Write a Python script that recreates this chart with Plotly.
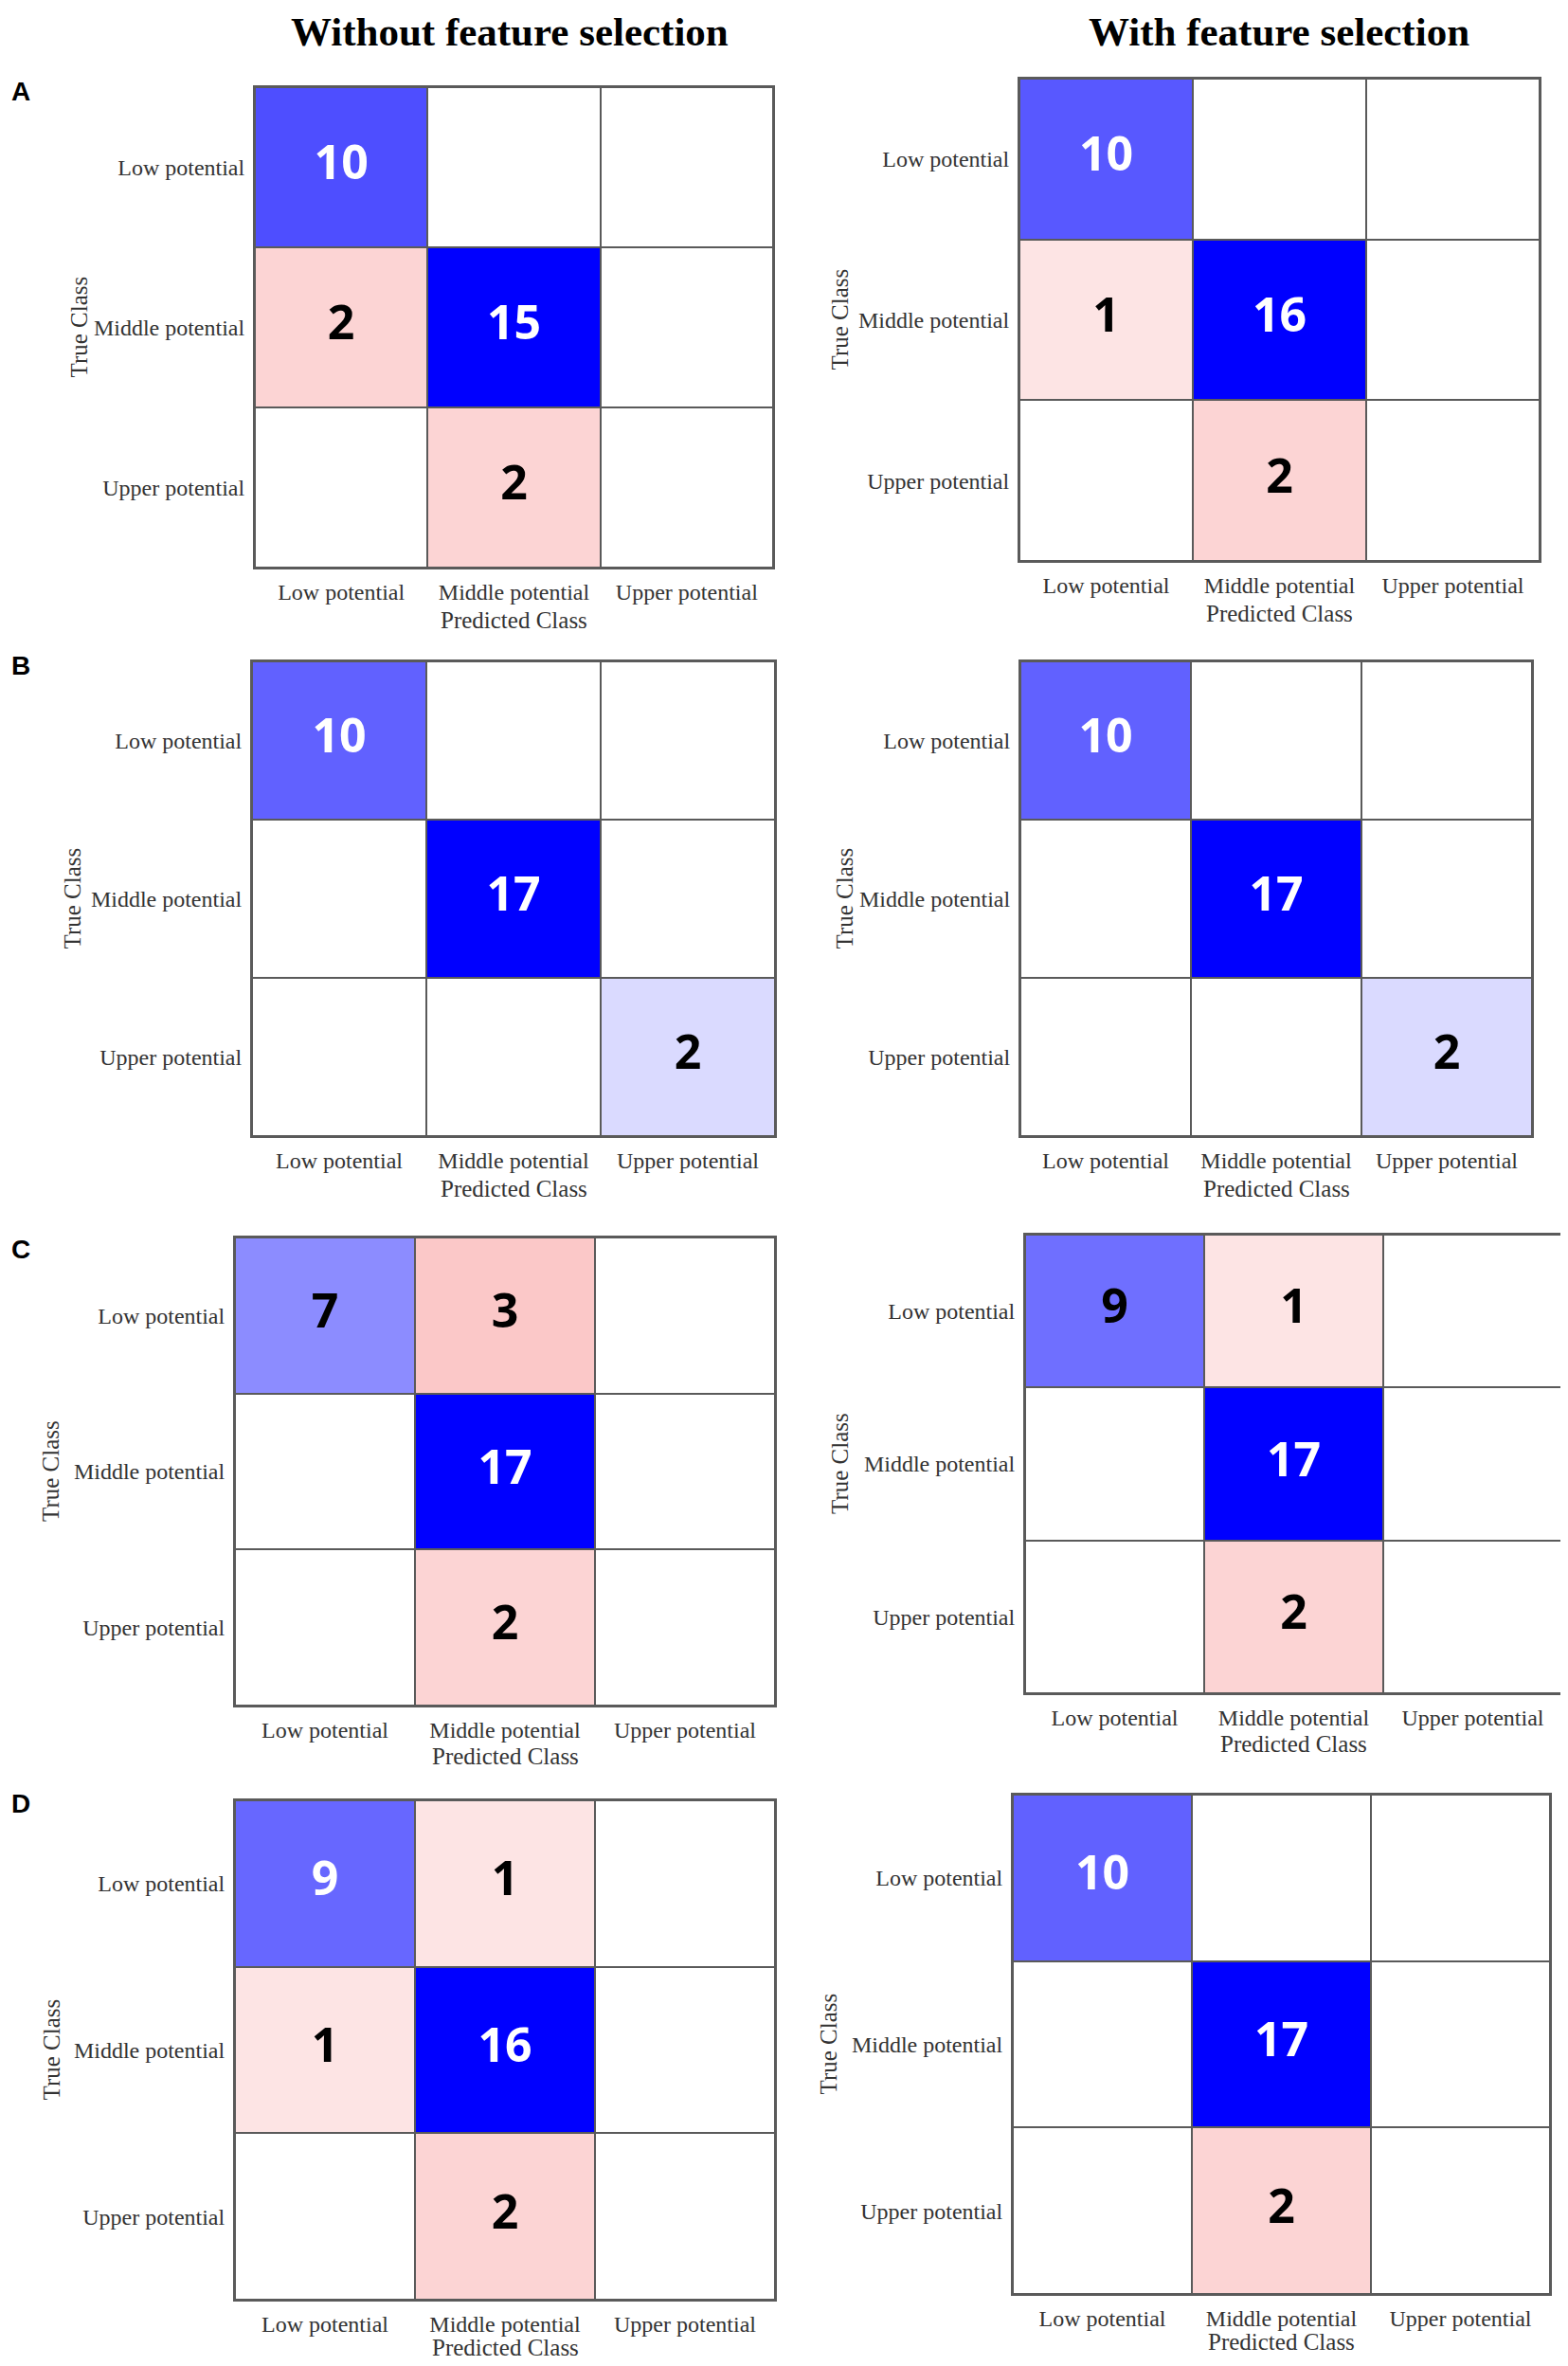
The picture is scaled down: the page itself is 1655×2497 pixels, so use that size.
import plotly.graph_objects as go

W, H = 1655, 2497
OFF = 8  # page body margin offset (px)

# ---------------- data ----------------
classes = ["Low potential", "Middle potential", "Upper potential"]
col_titles = ["Without feature selection", "With feature selection"]
row_letters = ["A", "B", "C", "D"]

A_without = [[10, 0, 0], [2, 15, 0], [0, 2, 0]]
A_with = [[10, 0, 0], [1, 16, 0], [0, 2, 0]]
B_without = [[10, 0, 0], [0, 17, 0], [0, 0, 2]]
B_with = [[10, 0, 0], [0, 17, 0], [0, 0, 2]]
C_without = [[7, 3, 0], [0, 17, 0], [0, 2, 0]]
C_with = [[9, 1, 0], [0, 17, 0], [0, 2, 0]]
D_without = [[9, 1, 0], [1, 16, 0], [0, 2, 0]]
D_with = [[10, 0, 0], [0, 17, 0], [0, 2, 0]]

matrices = [[A_without, A_with], [B_without, B_with],
            [C_without, C_with], [D_without, D_with]]

# ---------------- layout (page pixel boxes: left, right, top, bottom, trueclass_x) ----------------
boxes = [
    [(269, 816, 92, 599, 83), (1076, 1625, 83, 592, 886)],
    [(266, 818, 698, 1199, 76), (1077, 1617, 698, 1199, 891)],
    [(248, 818, 1306, 1800, 53), (1082, 1649, 1303, 1787, 886)],
    [(248, 818, 1900, 2427, 54), (1069, 1636, 1894, 2421, 874)],
]
pred_offset = [55, 55, 53, 50]
col_title_x = [538, 1350]
letter_y = [97, 702, 1318, 1903]


def px(x):
    return (x - OFF) / W


def py(y):
    return 1 - (y - OFF) / H


# white -> blue ramp with slight gamma
blue_scale = [[t / 10, "rgb({0},{0},255)".format(round(255 * (1 - (t / 10) ** 0.9)))]
              for t in range(11)]
red_scale = [[0, "#FFFFFF"], [1 / 3, "#FDE4E4"], [2 / 3, "#FCD4D4"], [1, "#FBC8C8"]]
GRID = "#5a5a5a"
SERIF = "Liberation Serif"

fig = go.Figure()
annotations = []

for r in range(4):
    for c in range(2):
        k = r * 2 + c + 1
        xa = "x" if k == 1 else f"x{k}"
        ya = "y" if k == 1 else f"y{k}"
        m = matrices[r][c]
        vmax = max(max(row) for row in m)
        diag = [[m[i][j] if i == j else None for j in range(3)] for i in range(3)]
        off = [[m[i][j] if i != j else None for j in range(3)] for i in range(3)]
        fig.add_trace(go.Heatmap(x=classes, y=classes, z=diag, zmin=0, zmax=vmax,
                                 colorscale=blue_scale, showscale=False, xgap=2, ygap=2,
                                 xaxis=xa, yaxis=ya, hoverinfo="skip"))
        fig.add_trace(go.Heatmap(x=classes, y=classes, z=off, zmin=0, zmax=3,
                                 colorscale=red_scale, showscale=False, xgap=2, ygap=2,
                                 xaxis=xa, yaxis=ya, hoverinfo="skip"))
        xs, ys, ts, cs = [], [], [], []
        for i in range(3):
            for j in range(3):
                if m[i][j] > 0:
                    xs.append(classes[j])
                    ys.append(classes[i])
                    ts.append(str(m[i][j]))
                    cs.append("white" if (i == j and m[i][j] / vmax > 0.55) else "black")
        fig.add_trace(go.Scatter(x=xs, y=ys, text=ts, mode="text",
                                 textfont=dict(color=cs, size=50, family="Open Sans", weight="bold"),
                                 xaxis=xa, yaxis=ya, hoverinfo="skip", showlegend=False))

        left, right, top, bottom, tcx = boxes[r][c]
        axis_common = dict(type="category", showgrid=False, zeroline=False, showline=True,
                           mirror=True, linecolor=GRID, linewidth=2, ticks="",
                           tickfont=dict(family=SERIF, size=24, color="#333333"),
                           fixedrange=True)
        fig.layout[("xaxis" if k == 1 else f"xaxis{k}")] = dict(
            domain=[px(left), px(right)], anchor=ya, range=[-0.5, 2.5],
            ticklabelstandoff=3, **axis_common)
        fig.layout[("yaxis" if k == 1 else f"yaxis{k}")] = dict(
            domain=[py(bottom), py(top)], anchor=xa, range=[2.5, -0.5],
            ticklabelstandoff=4, **axis_common)

        annotations.append(dict(text="True Class", x=px(tcx), y=py((top + bottom) / 2),
                                xref="paper", yref="paper", showarrow=False, textangle=-90,
                                xanchor="center", yanchor="middle",
                                font=dict(family=SERIF, size=25, color="#333333")))
        annotations.append(dict(text="Predicted Class", x=px((left + right) / 2),
                                y=py(bottom + pred_offset[r]), xref="paper", yref="paper",
                                showarrow=False, xanchor="center", yanchor="middle",
                                font=dict(family=SERIF, size=25, color="#333333")))

for c in range(2):
    annotations.append(dict(text=col_titles[c], x=px(col_title_x[c]), y=1,
                            xref="paper", yref="paper", showarrow=False,
                            xanchor="center", yanchor="top",
                            font=dict(family=SERIF, size=43, color="black", weight="bold")))
for r in range(4):
    annotations.append(dict(text=row_letters[r], x=0.001, y=py(letter_y[r]),
                            xref="paper", yref="paper", showarrow=False,
                            xanchor="left", yanchor="middle",
                            font=dict(family="Liberation Sans", size=28, color="black",
                                      weight="bold")))

fig.update_layout(width=W, height=H, margin=dict(l=0, r=0, t=0, b=0),
                  paper_bgcolor="white", plot_bgcolor=GRID, showlegend=False,
                  annotations=annotations)

fig.write_html("out.html")
